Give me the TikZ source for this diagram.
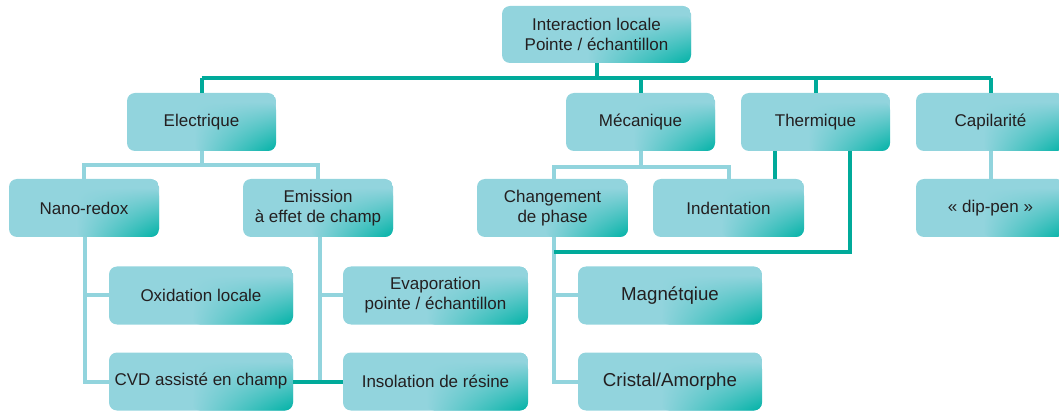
\documentclass[tikz,border=0pt]{standalone}
\usepackage{fontspec}
\setmainfont{Liberation Sans}
\usetikzlibrary{calc,shadings}
\definecolor{boxlight}{HTML}{92D4DD}
\definecolor{boxteal}{HTML}{00B2A6}
\definecolor{linelight}{HTML}{92D4DD}
\definecolor{lineteal}{HTML}{00AA9A}
\definecolor{txt}{HTML}{231F20}
\tikzset{
  box/.style={rounded corners=8pt, inner sep=2pt, text=txt, align=center,
    font=\fontsize{17}{20}\selectfont,
    path picture={
      \fill[boxlight] (path picture bounding box.south west) rectangle (path picture bounding box.north east);
      \shade[upper left=boxlight, upper right=boxlight, lower left=boxlight, lower right=boxteal]
        ($(path picture bounding box.south west)!0.45!(path picture bounding box.south east)$)
        rectangle ($(path picture bounding box.north east)!0.15!(path picture bounding box.south east)$);
    }},
  boxA/.style={box, minimum width=149pt, minimum height=58pt},
  boxB/.style={box, minimum width=184pt, minimum height=58pt},
  bigtxt/.style={font=\fontsize{18.7}{22}\selectfont},
  lt/.style={draw=linelight, line width=4pt},
  tl/.style={draw=lineteal, line width=4pt},
}
\begin{document}
\begin{tikzpicture}[x=1pt,y=-1pt]
\useasboundingbox (0,0) rectangle (1059,411);
\clip (0,0) rectangle (1059,411);
% nodes
\node[boxA, minimum width=189pt, minimum height=57pt] (top) at (596.5,34.5) {Interaction locale\\Pointe / échantillon};
\node[boxA] (elec) at (201.5,122) {Electrique};
\node[boxA] (meca) at (640.5,122) {Mécanique};
\node[boxA] (therm) at (815.5,122) {Thermique};
\node[boxA] (capi) at (990.5,122) {Capilarité};
\node[boxA, minimum width=150pt] (nano) at (84,208) {Nano-redox};
\node[boxA, minimum width=150pt] (emis) at (318,208) {Emission\\à effet de champ};
\node[boxA, minimum width=151pt] (chgt) at (552.5,208) {Changement\\de phase};
\node[boxA, minimum width=151pt] (indent) at (728.5,208) {Indentation};
\node[boxA] (dip) at (990.5,208) {«~dip-pen~»};
\node[boxB] (oxi) at (201,295.5) {Oxidation locale};
\node[boxB] (cvd) at (201,381.5) {CVD assisté en champ};
\node[boxB, minimum width=185pt] (evap) at (435.5,295.5) {Evaporation\\pointe / échantillon};
\node[boxB, minimum width=185pt] (insol) at (435.5,381.5) {Insolation de résine};
\node[boxB, bigtxt] (magn) at (670,295.5) {Magnétqiue};
\node[boxB, bigtxt] (crist) at (670,381.5) {Cristal/Amorphe};
% coordinates for buses
\coordinate (bus0) at (0,78);
\coordinate (busE) at (0,165);
\coordinate (busM) at (0,167);
\coordinate (busT) at (0,252);
\coordinate (xN) at (85,0);
\coordinate (xE) at (320,0);
\coordinate (xC) at (554,0);
\coordinate (xT1) at (775,0);
\coordinate (xT2) at (850,0);
% top-level bus (teal)
\draw[tl] (top.south) -- (top.south |- bus0);
\draw[tl] (elec.north |- bus0) -- (capi.north |- bus0);
\draw[tl] (elec.north |- bus0) -- (elec.north);
\draw[tl] (meca.north |- bus0) -- (meca.north);
\draw[tl] (therm.north |- bus0) -- (therm.north);
\draw[tl] (capi.north |- bus0) -- (capi.north);
% Electrique (light)
\draw[lt] (elec.south) -- (elec.south |- busE);
\draw[lt, line join=miter] (nano.north) -- (nano.north |- busE) -- (emis.north |- busE) -- (emis.north);
% Nano-redox branch
\draw[lt] (xN |- nano.south) -- (xN |- cvd.west);
\draw[lt] (xN |- oxi.west) -- (oxi.west);
\draw[lt, line cap=rect] (xN |- cvd.west) -- (cvd.west);
% Emission branch
\draw[lt] (xE |- emis.south) -- (xE |- insol.west);
\draw[lt] (xE |- evap.west) -- (evap.west);
\draw[lt, line cap=rect] (xE |- insol.west) -- (insol.west);
% CVD - Insolation (teal)
\draw[tl] (cvd.east) -- (insol.west);
% Mecanique (light)
\draw[lt] (meca.south) -- (meca.south |- busM);
\draw[lt, line join=miter] (xC |- chgt.north) -- (xC |- busM) -- (indent.north |- busM) -- (indent.north);
% Changement de phase branch
\draw[lt] (xC |- chgt.south) -- (xC |- crist.west);
\draw[lt] (xC |- magn.west) -- (magn.west);
\draw[lt, line cap=rect] (xC |- crist.west) -- (crist.west);
% Thermique (teal)
\draw[tl] (xT1 |- therm.south) -- (xT1 |- indent.north);
\draw[tl, line join=miter] (xT2 |- therm.south) -- (xT2 |- busT) -- (xC |- busT);
% Capilarite (light)
\draw[lt] (capi.south) -- (dip.north);
\end{tikzpicture}
\end{document}
